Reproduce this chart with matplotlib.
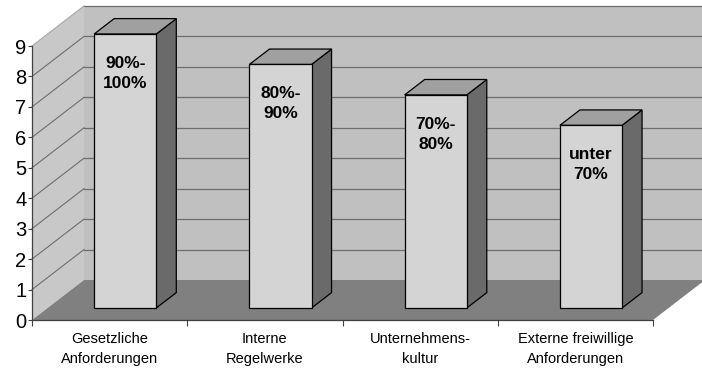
import matplotlib
matplotlib.use("Agg")
import matplotlib.pyplot as plt
from matplotlib.patches import Polygon

categories = ["Gesetzliche\nAnforderungen", "Interne\nRegelwerke",
              "Unternehmens-\nkultur", "Externe freiwillige\nAnforderungen"]
values = [9, 8, 7, 6]
bar_labels = ["90%-\n100%", "80%-\n90%", "70%-\n80%", "unter\n70%"]
yticks = list(range(0, 10))

plt.rcParams['font.family'] = ['Liberation Sans', 'DejaVu Sans']

W, H = 702, 369
fig = plt.figure(figsize=(W / 100, H / 100), dpi=100)
L, R, T, B = 32, 653, 46, 320
ax = fig.add_axes([L / W, 1 - B / H, (R - L) / W, (B - T) / H])
n = len(categories)
ymax = 9
ax.set_xlim(0, n)
ax.set_ylim(0, ymax)

pxx = (R - L) / n
pxy = (B - T) / ymax
Dx, Dy = 52 / pxx, 40 / pxy          # full depth offset in data units
fx, fy = 0.3 * Dx, 0.3 * Dy          # bar front offset
bx, by = 0.385 * Dx, 0.385 * Dy      # bar depth

def poly(pts, fc, ec="none", lw=0.0, z=1):
    p = Polygon(pts, closed=True, facecolor=fc, edgecolor=ec, linewidth=lw,
                zorder=z, clip_on=False, joinstyle="miter")
    ax.add_patch(p)

# back wall
poly([(Dx, Dy), (n + Dx, Dy), (n + Dx, ymax + Dy), (Dx, ymax + Dy)], "#c0c0c0", z=1)
# left wall
poly([(0, 0), (0, ymax), (Dx, ymax + Dy), (Dx, Dy)], "#c8c8c8", z=1)
# floor
poly([(0, 0), (n, 0), (n + Dx, Dy), (Dx, Dy)], "#808080", z=2)

gc = "#6e6e6e"
for k in yticks[1:]:
    ax.plot([Dx, n + Dx + 0.1], [k + Dy, k + Dy], color=gc, lw=0.9, zorder=1.5, clip_on=False)
    ax.plot([0, Dx], [k, k + Dy], color=gc if k < ymax else "#a8a8a8", lw=0.8,
            zorder=1.5, clip_on=False)

ec = "#000000"
for i, v in enumerate(values):
    x0 = i + 0.3 + fx
    x1 = i + 0.7 + fx
    y0 = fy
    y1 = v + fy
    # side
    poly([(x1, y0), (x1, y1), (x1 + bx, y1 + by), (x1 + bx, y0 + by)], "#6a6a6a", ec, 0.9, 3)
    # top
    poly([(x0, y1), (x1, y1), (x1 + bx, y1 + by), (x0 + bx, y1 + by)], "#a0a0a0", ec, 0.9, 3)
    # front
    poly([(x0, y0), (x1, y0), (x1, y1), (x0, y1)], "#d4d4d4", ec, 0.9, 4)
    ax.text((x0 + x1) / 2, y1 - 0.72, bar_labels[i], ha="center", va="top",
            fontsize=12.5, fontweight="bold", linespacing=1.4, zorder=5)

ax.set_facecolor("none")
for s in ["top", "right"]:
    ax.spines[s].set_visible(False)
for s in ["left", "bottom"]:
    ax.spines[s].set_color("#404040")
    ax.spines[s].set_linewidth(0.9)
    ax.spines[s].set_zorder(6)

ax.set_yticks(yticks)
ax.set_yticklabels([str(t) for t in yticks], fontsize=14.5)
ax.tick_params(axis="y", length=3, width=0.8, color="#404040", pad=1)
ax.set_xticks(range(n + 1))
ax.set_xticklabels([])
ax.tick_params(axis="x", length=4, width=0.8, color="#404040")
for i, c in enumerate(categories):
    ax.text(i + 0.5, -0.38, c, ha="center", va="top", fontsize=10.5,
            linespacing=1.55, transform=ax.transData, clip_on=False)

fig.savefig("out.png", dpi=100)
